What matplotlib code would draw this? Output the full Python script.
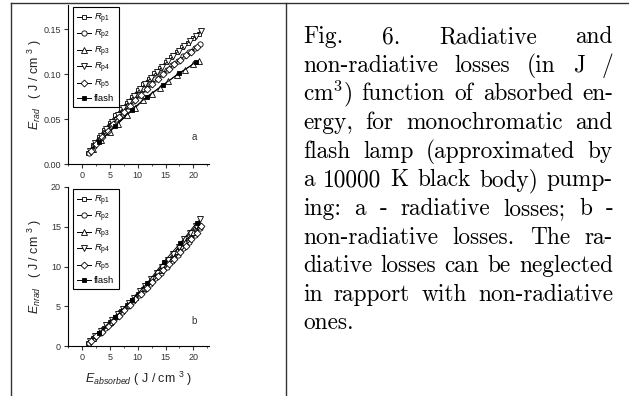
import matplotlib
matplotlib.use("Agg")
import matplotlib.pyplot as plt
from matplotlib.lines import Line2D
from matplotlib.ticker import MultipleLocator, FormatStrFormatter

plt.rcParams['font.family'] = ['Liberation Sans', 'DejaVu Sans']
plt.rcParams['mathtext.fontset'] = 'custom'
plt.rcParams['mathtext.rm'] = 'Liberation Sans'
plt.rcParams['mathtext.it'] = 'Liberation Sans:italic'
plt.rcParams['mathtext.bf'] = 'Liberation Sans:bold'

# ---------------- data: panel a (radiative losses) ----------------
series_labels = [r"$R_{\rm p1}$", r"$R_{\rm p2}$", r"$R_{\rm p3}$", r"$R_{\rm p4}$", r"$R_{\rm p5}$", "flash"]

a_x_p1 = [1.0, 2.0, 3.0, 4.0, 5.0, 6.0, 7.0, 8.0, 9.0, 10.0, 11.0, 12.0, 13.0, 14.0, 15.0, 16.0, 17.0, 18.0, 19.0, 20.0, 21.0]
a_y_p1 = [0.012, 0.021, 0.030, 0.038, 0.046, 0.054, 0.061, 0.068, 0.075, 0.082, 0.089, 0.095, 0.101, 0.107, 0.113, 0.119, 0.124, 0.130, 0.135, 0.140, 0.145]
a_x_p2 = [1.2, 2.2, 3.2, 4.2, 5.2, 6.2, 7.2, 8.2, 9.2, 10.2, 11.2, 12.2, 13.2, 14.2, 15.2, 16.2, 17.2, 18.2, 19.2, 20.2, 21.2]
a_y_p2 = [0.012, 0.020, 0.028, 0.036, 0.043, 0.050, 0.057, 0.064, 0.070, 0.077, 0.083, 0.089, 0.094, 0.100, 0.105, 0.110, 0.115, 0.120, 0.125, 0.129, 0.133]
a_x_p3 = [2.0, 3.5, 5.0, 6.5, 8.0, 9.5, 11.0, 12.5, 14.0, 15.5, 17.0, 18.5, 20.0, 21.0]
a_y_p3 = [0.017, 0.027, 0.036, 0.045, 0.054, 0.062, 0.071, 0.078, 0.085, 0.092, 0.099, 0.105, 0.111, 0.114]
a_x_p4 = [1.4, 2.4, 3.4, 4.4, 5.4, 6.4, 7.4, 8.4, 9.4, 10.4, 11.4, 12.4, 13.4, 14.4, 15.4, 16.4, 17.4, 18.4, 19.4, 20.4, 21.3]
a_y_p4 = [0.014, 0.023, 0.031, 0.039, 0.047, 0.055, 0.062, 0.069, 0.076, 0.083, 0.089, 0.096, 0.102, 0.108, 0.114, 0.120, 0.126, 0.131, 0.137, 0.142, 0.148]
a_x_p5 = [1.6, 2.6, 3.6, 4.6, 5.6, 6.6, 7.6, 8.6, 9.6, 10.6, 11.6, 12.6, 13.6, 14.6, 15.6, 16.6, 17.6, 18.6, 19.6, 20.6]
a_y_p5 = [0.014, 0.022, 0.030, 0.037, 0.045, 0.052, 0.058, 0.065, 0.071, 0.077, 0.083, 0.089, 0.095, 0.100, 0.106, 0.111, 0.116, 0.121, 0.125, 0.130]
a_x_fl = [3.1, 5.9, 8.9, 11.7, 14.6, 17.5, 20.4]
a_y_fl = [0.024, 0.042, 0.060, 0.075, 0.088, 0.101, 0.113]

# ---------------- data: panel b (non-radiative losses) ----------------
b_x_p1 = [1.0, 2.0, 3.0, 4.0, 5.0, 6.0, 7.0, 8.0, 9.0, 10.0, 11.0, 12.0, 13.0, 14.0, 15.0, 16.0, 17.0, 18.0, 19.0, 20.0, 21.0]
b_y_p1 = [0.4, 1.0, 1.6, 2.3, 3.0, 3.7, 4.4, 5.1, 5.8, 6.5, 7.2, 7.9, 8.6, 9.4, 10.1, 10.9, 11.7, 12.5, 13.3, 14.1, 15.0]
b_x_p2 = [1.2, 2.2, 3.2, 4.2, 5.2, 6.2, 7.2, 8.2, 9.2, 10.2, 11.2, 12.2, 13.2, 14.2, 15.2, 16.2, 17.2, 18.2, 19.2, 20.2, 21.2]
b_y_p2 = [0.4, 1.0, 1.6, 2.3, 2.9, 3.6, 4.3, 5.0, 5.7, 6.4, 7.1, 7.8, 8.5, 9.2, 10.0, 10.7, 11.5, 12.3, 13.1, 13.9, 14.8]
b_x_p3 = [2.0, 3.5, 5.0, 6.5, 8.0, 9.5, 11.0, 12.5, 14.0, 15.5, 17.0, 18.5, 20.0, 21.0]
b_y_p3 = [1.0, 2.0, 3.0, 4.1, 5.1, 6.2, 7.3, 8.4, 9.5, 10.7, 11.9, 13.1, 14.4, 15.3]
b_x_p4 = [1.4, 2.4, 3.4, 4.4, 5.4, 6.4, 7.4, 8.4, 9.4, 10.4, 11.4, 12.4, 13.4, 14.4, 15.4, 16.4, 17.4, 18.4, 19.4, 20.4, 21.2]
b_y_p4 = [0.6, 1.2, 1.9, 2.6, 3.3, 4.0, 4.7, 5.4, 6.1, 6.9, 7.6, 8.4, 9.2, 10.0, 10.8, 11.6, 12.5, 13.4, 14.2, 15.1, 16.0]
b_x_p5 = [1.6, 2.6, 3.6, 4.6, 5.6, 6.6, 7.6, 8.6, 9.6, 10.6, 11.6, 12.6, 13.6, 14.6, 15.6, 16.6, 17.6, 18.6, 19.6, 20.6, 21.3]
b_y_p5 = [0.6, 1.2, 1.8, 2.5, 3.2, 3.8, 4.5, 5.2, 5.9, 6.6, 7.3, 8.0, 8.8, 9.5, 10.3, 11.0, 11.8, 12.6, 13.4, 14.2, 15.1]
b_x_fl = [3.1, 5.9, 9.0, 11.7, 14.7, 17.6, 20.6]
b_y_fl = [1.6, 3.6, 5.8, 7.9, 10.6, 12.9, 15.5]

caption_lines = [
    "Fig. 6. Radiative and",
    "non-radiative losses (in J /",
    "cm$^3$) function of absorbed en-",
    "ergy, for monochromatic and",
    "flash lamp (approximated by",
    "a 10000 K black body) pump-",
    "ing: a - radiative losses; b -",
    "non-radiative losses. The ra-",
    "diative losses can be neglected",
    "in rapport with non-radiative",
    "ones.",
]

W, H = 629, 396
fig = plt.figure(figsize=(W / 100, H / 100), dpi=100)

styles = [
    dict(marker='s', mfc='white', ms=3.3),
    dict(marker='o', mfc='white', ms=3.8),
    dict(marker='^', mfc='white', ms=3.9),
    dict(marker='v', mfc='white', ms=3.9),
    dict(marker='D', mfc='white', ms=3.5),
    dict(marker='s', mfc='black', ms=3.5),
]


def make_axes(rect, ylim, ymaj, fmt):
    ax = fig.add_axes(rect)
    ax.set_xlim(-2.5, 22.8)
    ax.set_ylim(*ylim)
    for s in ('top', 'right'):
        ax.spines[s].set_visible(False)
    for s in ('left', 'bottom'):
        ax.spines[s].set_linewidth(0.8)
    ax.xaxis.set_major_locator(MultipleLocator(5))
    ax.xaxis.set_minor_locator(MultipleLocator(2.5))
    ax.yaxis.set_major_locator(MultipleLocator(ymaj))
    if fmt:
        ax.yaxis.set_major_formatter(FormatStrFormatter(fmt))
    ax.tick_params(which='major', direction='out', length=3, width=0.8, labelsize=6.5, pad=2, color='#333333', labelcolor='#333333')
    ax.tick_params(which='minor', direction='out', length=1.6, width=0.6, color='#333333')
    return ax


ax_a = make_axes([68 / W, (H - 164) / H, 141 / W, 159 / H], (0, 0.1767), 0.05, '%.2f')
ax_b = make_axes([68 / W, (H - 346) / H, 141 / W, 159 / H], (0, 20.0), 5, None)

a_data = [(a_x_p1, a_y_p1), (a_x_p2, a_y_p2), (a_x_p3, a_y_p3), (a_x_p4, a_y_p4), (a_x_p5, a_y_p5), (a_x_fl, a_y_fl)]
b_data = [(b_x_p1, b_y_p1), (b_x_p2, b_y_p2), (b_x_p3, b_y_p3), (b_x_p4, b_y_p4), (b_x_p5, b_y_p5), (b_x_fl, b_y_fl)]

for ax, data in ((ax_a, a_data), (ax_b, b_data)):
    for (xs, ys), lab, st in zip(data, series_labels, styles):
        ax.plot(xs, ys, color='black', lw=0.7, mec='black', mew=0.6, label=lab, **st)
    leg = ax.legend(loc='upper left', bbox_to_anchor=(0.035, 0.985), borderaxespad=0,
                    fontsize=6.8, frameon=True, fancybox=False, framealpha=1,
                    edgecolor='black', handlelength=1.5, handletextpad=0.3,
                    labelspacing=0.25, borderpad=0.45)
    leg.get_frame().set_linewidth(0.8)

ax_a.text(0.894, 0.17, "a", transform=ax_a.transAxes, fontsize=7, ha='center', va='center', color='#333333')
ax_b.text(0.894, 0.157, "b", transform=ax_b.transAxes, fontsize=7, ha='center', va='center', color='#333333')

ax_a.set_ylabel(r"$E_{rad}$   ( J / cm $^3$ )", fontsize=9, color='#222222')
ax_b.set_ylabel(r"$E_{nrad}$   ( J / cm $^3$ )", fontsize=9, color='#222222')
ax_a.yaxis.set_label_coords(-0.17, 0.5)
ax_b.yaxis.set_label_coords(-0.17, 0.5)
ax_b.set_xlabel(r"$E_{absorbed}$ ( J / cm $^3$ )", fontsize=9, labelpad=6, color='#222222')

# frame lines
fig.add_artist(Line2D([11 / W, 1.0], [(H - 3) / H, (H - 3) / H], transform=fig.transFigure, color='#333333', lw=1.0))
fig.add_artist(Line2D([11 / W, 11 / W], [0, (H - 3) / H], transform=fig.transFigure, color='#333333', lw=1.0))
fig.add_artist(Line2D([286 / W, 286 / W], [0, (H - 3) / H], transform=fig.transFigure, color='#333333', lw=1.0))

# caption, justified
fig.canvas.draw()
renderer = fig.canvas.get_renderer()
left, right = 303, 613
first_base, step = 43.3, 28.6


def word_width(word, size):
    t = fig.text(0, 0, word, fontsize=size, family='cmr10', math_fontfamily='cm')
    w = t.get_window_extent(renderer).width
    t.remove()
    return w


def space_px(size):
    return 0.333 * size * 100 / 72


ref_words = caption_lines[8].split()
base_size = 10
natural = sum(word_width(w, base_size) for w in ref_words) + (len(ref_words) - 1) * space_px(base_size)
size = base_size * (right - left) / natural

for i, line in enumerate(caption_lines):
    words = line.split()
    widths = [word_width(w, size) for w in words]
    if i == len(caption_lines) - 1 or len(words) == 1:
        gap = space_px(size)
    else:
        gap = (right - left - sum(widths)) / (len(words) - 1)
    x = left
    y = H - (first_base + i * step)
    for w, wd in zip(words, widths):
        fig.text(x / W, y / H, w, fontsize=size, family='cmr10', math_fontfamily='cm',
                 va='baseline', ha='left', color='black')
        x += wd + gap

fig.savefig("out.png", dpi=100)
